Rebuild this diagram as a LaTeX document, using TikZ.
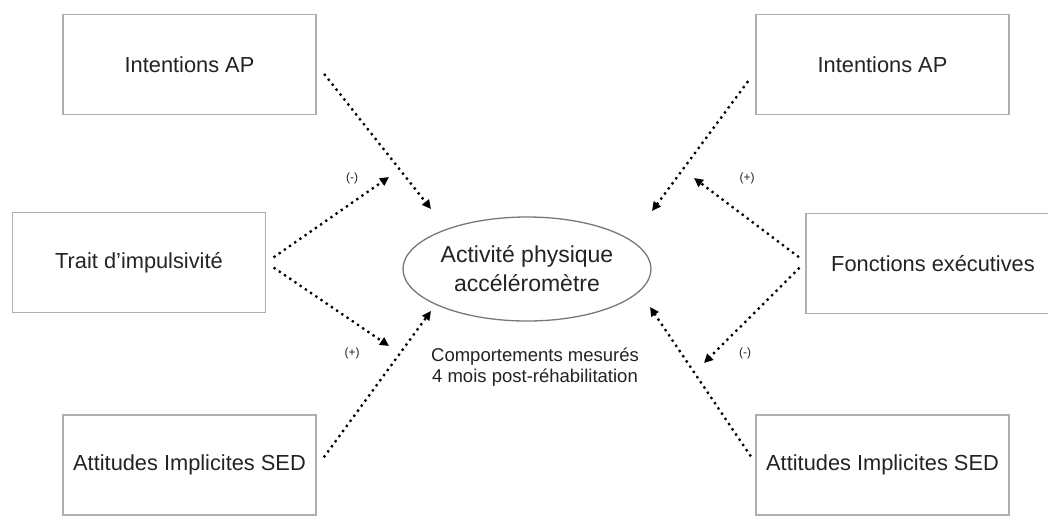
\documentclass[tikz,border=0pt]{standalone}
\usepackage{fontspec}
\setmainfont{Liberation Sans}
\usetikzlibrary{shapes.geometric,arrows.meta}
\definecolor{boxgray}{RGB}{175,175,175}
\definecolor{ellgray}{RGB}{120,120,120}
\definecolor{txt}{RGB}{35,35,35}
\begin{document}
\begin{tikzpicture}[x=1pt,y=-1pt,
  every node/.style={text=txt},
  factor/.style={draw=boxgray,line width=1.4pt,fill=white,minimum width=253pt,minimum height=100pt,inner sep=0pt,font=\fontsize{21.8}{24}\selectfont},
  outcome/.style={ellipse,draw=ellgray,line width=1.3pt,minimum width=248pt,minimum height=104pt,inner sep=0pt,align=center,font=\fontsize{23}{29}\selectfont},
  link/.style={line width=2.3pt,dash pattern=on 2.3pt off 4pt,-{Triangle[length=9pt,width=8.5pt]}},
  sign/.style={font=\fontsize{12}{13}\selectfont},
  caption/.style={align=center,font=\fontsize{18.5}{21}\selectfont}
]
\useasboundingbox (0,0) rectangle (1048,515);
\fill[white] (0,0) rectangle (1048,515);

% nodes
\node[factor] (tl) at (189.5,64.5) {Intentions AP};
\node[factor] (ml) at (139,262.5) {Trait d'impulsivité};
\node[factor] (bl) at (189.5,465) {Attitudes Implicites SED};
\node[factor] (tr) at (882.5,64.5) {Intentions AP};
\node[factor,minimum width=254pt] (mr) at (933,263.5) {Fonctions exécutives};
\node[factor] (br) at (882.5,465) {Attitudes Implicites SED};
\node[outcome] (ap) at (527,269) {Activité physique\\accéléromètre};
\node[caption] (cap) at (535,367) {Comportements mesurés\\4 mois post-réhabilitation};

% free ends of connectors
\coordinate (e1) at (431,209);
\coordinate (e2) at (389,177);
\coordinate (e3) at (389,346);
\coordinate (e4) at (431,311);
\coordinate (e5) at (652,211);
\coordinate (e6) at (694,178);
\coordinate (e7) at (704,363);
\coordinate (e8) at (650,307);

% connectors
\draw[link,shorten <=12pt] (tl.east) -- (e1);
\draw[link,shorten <=9pt] (ml.east) -- (e2);
\draw[link,shorten <=9pt] (ml.east) -- (e3);
\draw[link,shorten <=12pt] ([yshift=-2pt]bl.east) -- (e4);
\draw[link,shorten <=12pt] ([yshift=-7pt]tr.west) -- (e5);
\draw[link,shorten <=8pt] ([yshift=1.5pt]mr.west) -- (e6);
\draw[link,shorten <=8pt] ([yshift=1.5pt]mr.west) -- (e7);
\draw[link,shorten <=8pt] ([yshift=2pt]br.west) -- (e8);

% labels
\node[sign] (s1) at (352,178) {(-)};
\node[sign] (s2) at (352,353) {(+)};
\node[sign] (s3) at (747,178) {(+)};
\node[sign] (s4) at (745,353) {(-)};
\end{tikzpicture}
\end{document}
